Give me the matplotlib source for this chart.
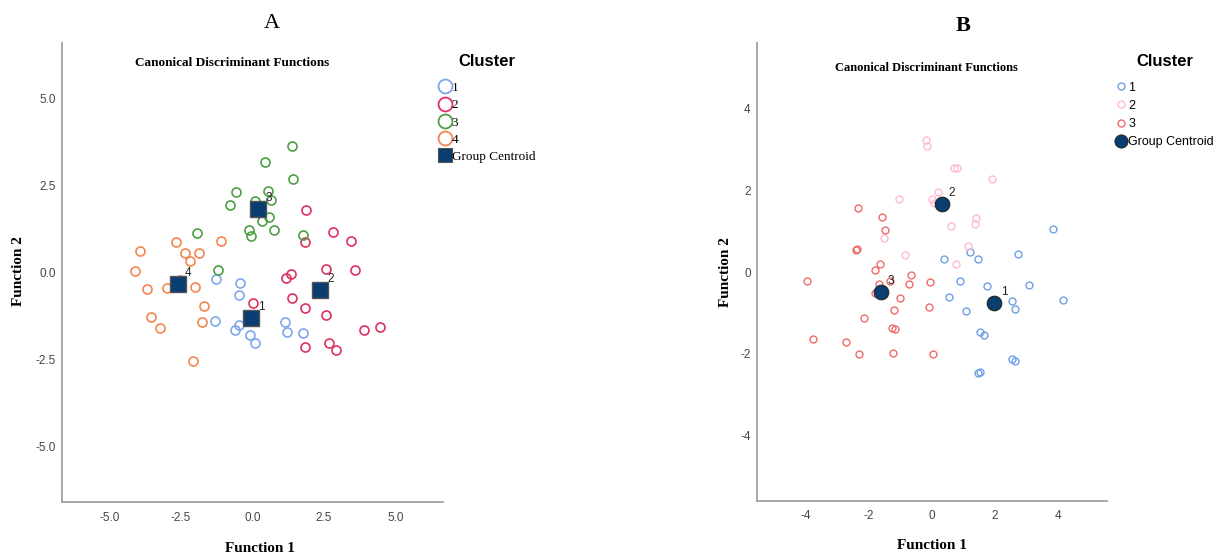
import matplotlib

matplotlib.use("Agg")
import matplotlib.pyplot as plt
import numpy as np
from matplotlib.lines import Line2D

plt.rcParams["axes.unicode_minus"] = False

SERIF = "Liberation Serif"
SANS = "Liberation Sans"

# panel A: four clusters (Function 1, Function 2)
a_cluster1 = np.array([
    [-1.28, -0.20], [-0.45, -0.32], [-0.49, -0.66], [-1.33, -1.40], [-0.48, -1.51],
    [-0.63, -1.67], [-0.10, -1.80], [0.10, -2.02], [1.12, -1.42], [1.20, -1.72],
    [1.77, -1.73],
])
a_cluster2 = np.array([
    [1.87, 1.80], [2.80, 1.15], [3.43, 0.90], [1.82, 0.86], [2.58, 0.09],
    [3.57, 0.07], [1.33, -0.04], [1.18, -0.17], [1.38, -0.73], [0.01, -0.87],
    [1.82, -1.02], [2.58, -1.24], [3.91, -1.66], [4.45, -1.56], [1.85, -2.14],
    [2.68, -2.04], [2.92, -2.23],
])
a_cluster3 = np.array([
    [1.38, 3.63], [0.44, 3.18], [1.41, 2.69], [-0.59, 2.32], [-0.79, 1.95],
    [0.07, 2.06], [0.55, 2.35], [0.64, 2.09], [0.34, 1.49], [0.56, 1.59],
    [-0.12, 1.22], [-0.05, 1.05], [0.75, 1.22], [1.76, 1.07], [-1.22, 0.07],
    [-1.94, 1.13],
])
a_cluster4 = np.array([
    [-1.12, 0.91], [-2.69, 0.86], [-3.92, 0.62], [-2.35, 0.55], [-1.86, 0.55],
    [-2.20, 0.34], [-4.10, 0.04], [-3.68, -0.48], [-2.98, -0.44], [-2.53, -0.22],
    [-2.03, -0.41], [-1.71, -0.96], [-3.55, -1.27], [-3.22, -1.59], [-1.78, -1.44],
    [-2.10, -2.55],
])
a_centroids = np.array([[-0.06, -1.32], [2.37, -0.51], [0.20, 1.82], [-2.61, -0.34]])
a_centroid_labels = ["1", "2", "3", "4"]
a_ticks = [-5.0, -2.5, 0.0, 2.5, 5.0]

# panel B: three clusters
b_cluster1 = np.array([
    [0.39, 0.31], [0.90, -0.23], [0.53, -0.61], [3.84, 1.06], [2.73, 0.45],
    [1.21, 0.49], [1.45, 0.33], [3.08, -0.31], [1.75, -0.35], [2.53, -0.71],
    [2.65, -0.91], [1.08, -0.95], [4.15, -0.68], [1.54, -1.47], [1.66, -1.55],
    [2.53, -2.13], [2.63, -2.17], [1.45, -2.47], [1.51, -2.44],
])
b_cluster2 = np.array([
    [-0.19, 3.23], [-0.14, 3.08], [0.69, 2.55], [0.79, 2.55], [1.90, 2.27],
    [0.18, 1.96], [-0.01, 1.80], [0.07, 1.69], [-1.05, 1.79], [1.41, 1.33],
    [1.36, 1.19], [0.62, 1.12], [-1.51, 0.83], [1.13, 0.63], [-0.84, 0.43],
    [0.77, 0.19],
])
b_cluster3 = np.array([
    [-2.35, 1.58], [-1.59, 1.34], [-1.48, 1.02], [-2.37, 0.57], [-2.40, 0.53],
    [-1.64, 0.21], [-1.80, 0.06], [-0.66, -0.06], [-0.71, -0.28], [-0.06, -0.24],
    [-3.96, -0.23], [-1.66, -0.28], [-1.80, -0.51], [-1.32, -0.23], [-1.02, -0.64],
    [-1.19, -0.93], [-0.09, -0.86], [-2.15, -1.12], [-1.27, -1.36], [-1.16, -1.40],
    [-3.76, -1.63], [-2.71, -1.72], [-2.31, -2.00], [-1.23, -1.98], [0.04, -2.00],
])
b_centroids = np.array([[1.97, -0.76], [0.32, 1.66], [-1.62, -0.49]])
b_centroid_labels = ["1", "2", "3"]
b_ticks = [-4, -2, 0, 2, 4]

a_colors = ["#7DA7EA", "#E0305F", "#4E9E45", "#F4864F"]
b_colors = ["#6E9FE6", "#FFBAD4", "#EE6B6B"]
centroid_color = "#0A3D70"

fig = plt.figure(figsize=(12.14, 5.57), dpi=100)
ax_a = fig.add_axes([0.051, 0.099, 0.314, 0.824])
ax_b = fig.add_axes([0.6236, 0.101, 0.2880, 0.821])


def style_axes(ax, lim_x, lim_y, ticks, fmt):
    ax.set_xlim(-lim_x, lim_x)
    ax.set_ylim(-lim_y, lim_y)
    ax.set_xticks(ticks)
    ax.set_yticks(ticks)
    ax.set_xticklabels([fmt.format(t) for t in ticks])
    ax.set_yticklabels([fmt.format(t) for t in ticks])
    for side in ("top", "right"):
        ax.spines[side].set_visible(False)
    for side in ("left", "bottom"):
        ax.spines[side].set_color("#A0A0A0")
        ax.spines[side].set_linewidth(1.3)
    ax.tick_params(length=0, labelsize=8.5, labelcolor="#444444")
    ax.tick_params(axis="x", pad=7)
    ax.tick_params(axis="y", pad=4.5)
    for lbl in ax.get_xticklabels() + ax.get_yticklabels():
        lbl.set_family(SANS)


# panel A
for pts, col in zip([a_cluster1, a_cluster2, a_cluster3, a_cluster4], a_colors):
    ax_a.plot(pts[:, 0], pts[:, 1], "o", ms=6.5, mfc="none", mec=col, mew=1.2, ls="none")
ax_a.plot(a_centroids[:, 0], a_centroids[:, 1], "s", ms=11, mfc=centroid_color,
          mec="#555555", mew=1.0, ls="none", zorder=3)
for (x, y), lbl in zip(a_centroids, a_centroid_labels):
    ax_a.annotate(lbl, (x, y), xytext=(5, 6), textcoords="offset points",
                  fontsize=8.5, family=SANS, color="#222222")
style_axes(ax_a, 6.67, 6.6, a_ticks, "{:.1f}")

# panel B
for pts, col in zip([b_cluster1, b_cluster2, b_cluster3], b_colors):
    ax_b.plot(pts[:, 0], pts[:, 1], "o", ms=5, mfc="none", mec=col, mew=1.0, ls="none")
ax_b.plot(b_centroids[:, 0], b_centroids[:, 1], "o", ms=10.5, mfc=centroid_color,
          mec="#222222", mew=0.8, ls="none", zorder=3)
for (x, y), lbl in zip(b_centroids, b_centroid_labels):
    ax_b.annotate(lbl, (x, y), xytext=(5, 6), textcoords="offset points",
                  fontsize=8.5, family=SANS, color="#222222")
style_axes(ax_b, 5.54, 5.6, b_ticks, "{:d}")

# titles and axis labels
fig.text(0.224, 0.958, "A", ha="center", va="center", fontsize=16, family=SERIF)
fig.text(0.793, 0.953, "B", ha="center", va="center", fontsize=16, family=SERIF,
         weight="bold")
fig.text(0.191, 0.887, "Canonical Discriminant Functions", ha="center", va="center",
         fontsize=9.5, family=SERIF, weight="bold")
fig.text(0.763, 0.878, "Canonical Discriminant Functions", ha="center", va="center",
         fontsize=9, family=SERIF, weight="bold")
fig.text(0.214, 0.016, "Function 1", ha="center", va="center", fontsize=11,
         family=SERIF, weight="bold")
fig.text(0.768, 0.020, "Function 1", ha="center", va="center", fontsize=11,
         family=SERIF, weight="bold")
fig.text(0.015, 0.513, "Function 2", ha="center", va="center", rotation=90,
         fontsize=11, family=SERIF, weight="bold")
fig.text(0.598, 0.512, "Function 2", ha="center", va="center", rotation=90,
         fontsize=11, family=SERIF, weight="bold")

# legends
a_handles = [Line2D([], [], marker="o", ls="none", ms=10, mfc="none", mec=c, mew=1.3)
             for c in a_colors]
a_handles.append(Line2D([], [], marker="s", ls="none", ms=10, mfc=centroid_color,
                        mec="#555555", mew=0.8))
leg_a = fig.legend(a_handles, ["1", "2", "3", "4", "Group Centroid"], loc="upper left",
                   bbox_to_anchor=(0.357, 0.912), frameon=False, handlelength=0.9,
                   handletextpad=0.1, labelspacing=0.38, borderaxespad=0,
                   prop={"family": SERIF, "size": 9.5},
                   title="Cluster", title_fontproperties={"family": SANS, "size": 12,
                                                          "weight": "bold"})
leg_a._legend_box.sep = 9

b_handles = [Line2D([], [], marker="o", ls="none", ms=5, mfc="none", mec=c, mew=1.0)
             for c in b_colors]
b_handles.append(Line2D([], [], marker="o", ls="none", ms=9.5, mfc=centroid_color,
                        mec="#222222", mew=0.6))
leg_b = fig.legend(b_handles, ["1", "2", "3", "Group Centroid"], loc="upper left",
                   bbox_to_anchor=(0.915, 0.912), frameon=False, handlelength=0.8,
                   handletextpad=0.2, labelspacing=0.5, borderaxespad=0,
                   prop={"family": SANS, "size": 9},
                   title="Cluster", title_fontproperties={"family": SANS, "size": 12,
                                                          "weight": "bold"})
leg_b._legend_box.sep = 9

fig.savefig("out.png", dpi=100)
plt.close(fig)
